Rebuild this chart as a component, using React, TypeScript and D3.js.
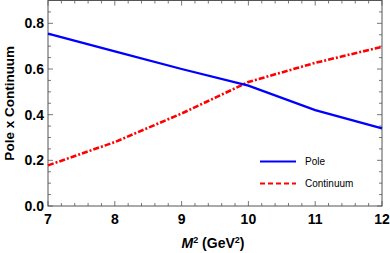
import React, { useEffect, useRef } from 'react';
import * as d3 from 'd3';

const massSq = [7, 8, 9, 10, 11, 12];
const pole = [0.755, 0.677, 0.6, 0.527, 0.42, 0.34];
const continuum = [0.178, 0.28, 0.405, 0.543, 0.627, 0.697];
const yTicks = [0, 0.2, 0.4, 0.6, 0.8];

export default function App() {
    const ref = useRef<SVGSVGElement>(null);

    useEffect(() => {
        const svg = d3.select(ref.current);
        svg.selectAll('*').remove();

        const left = 48, right = 382, top = 0.5, bottom = 206;
        const x = d3.scaleLinear().domain([7, 12]).range([left, right]);
        const y = d3.scaleLinear().domain([0, 0.9]).range([bottom, top]);
        const font = '"Liberation Sans", Arial, sans-serif';
        const axisColor = '#555';

        // frame
        svg.append('rect')
            .attr('x', left).attr('y', top)
            .attr('width', right - left).attr('height', bottom - top)
            .attr('fill', 'none').attr('stroke', axisColor).attr('stroke-width', 1);

        const xMinor = d3.range(7, 12.001, 0.2);
        const yMinor = d3.range(0, 0.9001, 0.05);
        const g = svg.append('g').attr('stroke', axisColor).attr('stroke-width', 0.8);
        xMinor.forEach(v => {
            const major = Math.abs(v - Math.round(v)) < 1e-6;
            const len = major ? 5 : 3;
            g.append('line').attr('x1', x(v)).attr('x2', x(v)).attr('y1', bottom).attr('y2', bottom - len);
            g.append('line').attr('x1', x(v)).attr('x2', x(v)).attr('y1', top).attr('y2', top + len);
        });
        yMinor.forEach(v => {
            const major = Math.abs(v * 5 - Math.round(v * 5)) < 1e-6;
            const len = major ? 5 : 3;
            g.append('line').attr('y1', y(v)).attr('y2', y(v)).attr('x1', left).attr('x2', left + len);
            g.append('line').attr('y1', y(v)).attr('y2', y(v)).attr('x1', right).attr('x2', right - len);
        });

        svg.append('g').selectAll('text').data(massSq).join('text')
            .attr('x', d => x(d)).attr('y', bottom + 18)
            .attr('text-anchor', 'middle')
            .style('font-family', font).style('font-weight', 'bold').style('font-size', '14px')
            .text(d => d);

        svg.append('g').selectAll('text').data(yTicks).join('text')
            .attr('x', left - 4).attr('y', d => y(d) + 5)
            .attr('text-anchor', 'end')
            .style('font-family', font).style('font-weight', 'bold').style('font-size', '14px')
            .text(d => d.toFixed(1));

        const line = d3.line<number>()
            .x((_, i) => x(massSq[i]))
            .y(d => y(d));

        svg.append('path').datum(continuum)
            .attr('d', line).attr('fill', 'none')
            .attr('stroke', '#ff0000').attr('stroke-width', 2.6)
            .attr('stroke-dasharray', '6,2,2,2');

        svg.append('path').datum(pole)
            .attr('d', line).attr('fill', 'none')
            .attr('stroke', '#0000ff').attr('stroke-width', 2.2);

        // legend
        const lg = svg.append('g');
        lg.append('line').attr('x1', 260).attr('x2', 296).attr('y1', 161.5).attr('y2', 161.5)
            .attr('stroke', '#0000ff').attr('stroke-width', 2.2);
        lg.append('line').attr('x1', 260).attr('x2', 296).attr('y1', 183.5).attr('y2', 183.5)
            .attr('stroke', '#ff0000').attr('stroke-width', 2.2).attr('stroke-dasharray', '5,3');
        lg.append('text').attr('x', 305).attr('y', 165).text('Pole')
            .style('font-family', font).style('font-size', '10px');
        lg.append('text').attr('x', 305).attr('y', 187).text('Continuum')
            .style('font-family', font).style('font-size', '10px');

        // axis titles
        const xt = svg.append('text').attr('x', 213).attr('y', 248).attr('text-anchor', 'middle')
            .style('font-family', font).style('font-weight', 'bold').style('font-size', '14px');
        xt.append('tspan').style('font-style', 'italic').text('M');
        xt.append('tspan').attr('dy', -5).style('font-size', '9px').text('2');
        xt.append('tspan').attr('dy', 5).text(' (GeV');
        xt.append('tspan').attr('dy', -5).style('font-size', '9px').text('2');
        xt.append('tspan').attr('dy', 5).text(')');

        svg.append('text')
            .attr('transform', `translate(14,${(top + bottom) / 2}) rotate(-90)`)
            .attr('text-anchor', 'middle')
            .style('font-family', font).style('font-weight', 'bold').style('font-size', '13.5px')
            .text('Pole x Continuum');
    }, []);

    return (
        <svg ref={ref} width={390} height={253}
            style={{ position: 'absolute', left: 0, top: 0, background: '#fff' }} />
    );
}
